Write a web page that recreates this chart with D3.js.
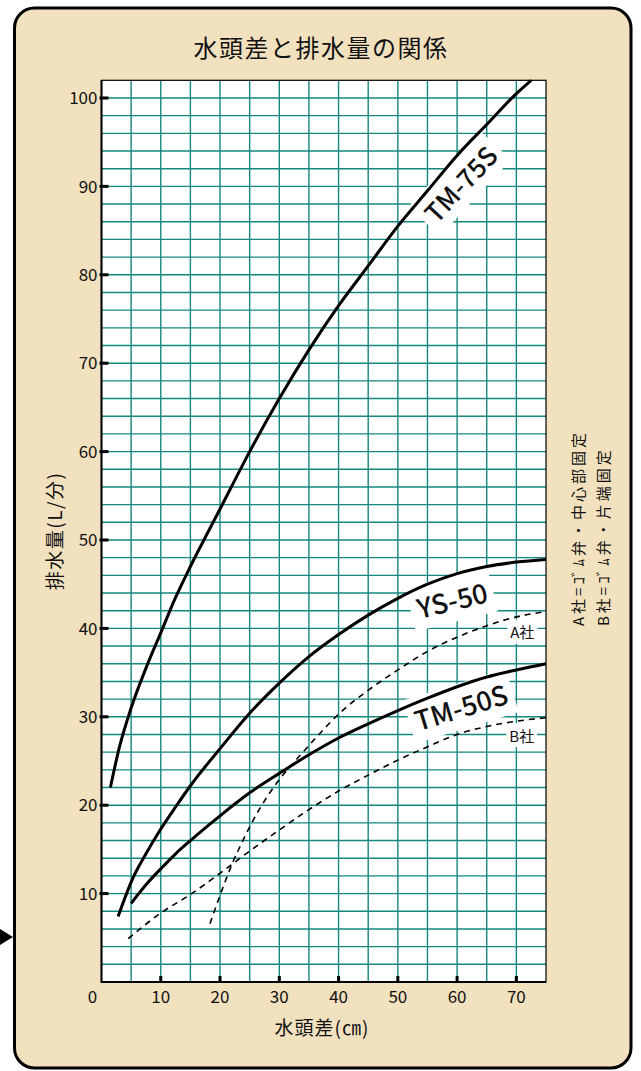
<!DOCTYPE html>
<html>
<head>
<meta charset="utf-8">
<script src="https://cdn.jsdelivr.net/npm/d3@7"></script>
<style>
  html, body { margin: 0; padding: 0; background: #ffffff; }
  svg { display: block; }
  text { font-family: "Noto Sans CJK JP", "Noto Sans", sans-serif; fill: #111; }
</style>
</head>
<body>
<svg id="chart" width="641" height="1071"></svg>
<script>
// 水頭差 (cm) vs 排水量 (L/分)
var xTicks = [10, 20, 30, 40, 50, 60, 70];
var yTicks = [10, 20, 30, 40, 50, 60, 70, 80, 90, 100];

var tm75s = [[1.5, 22], [3, 26.5], [5, 31], [7.5, 35.5], [10, 39.5], [12.5, 43.5], [15, 47],
  [20, 53.5], [25, 60], [30, 66], [35, 71.5], [40, 76.5], [45, 81], [50, 85.5], [55, 89.5],
  [60, 93.5], [65, 97], [70, 100.5], [72.5, 102]];
var ys50 = [[2.8, 7.4], [4, 9.6], [5, 11.3], [7.5, 14.5], [10, 17.3], [12.5, 19.8], [15, 22.2],
  [20, 26.4], [25, 30.4], [30, 33.8], [35, 36.8], [40, 39.3], [45, 41.5], [50, 43.4], [55, 45],
  [60, 46.2], [65, 47], [70, 47.5], [75, 47.8]];
var tm50s = [[5, 8.9], [7.5, 11], [10, 12.8], [12.5, 14.5], [15, 16], [20, 18.8], [25, 21.4],
  [30, 23.6], [35, 25.7], [40, 27.6], [45, 29.2], [50, 30.7], [55, 32.1], [60, 33.4], [65, 34.5],
  [70, 35.3], [75, 36]];
var companyA = [[18.3, 6.6], [20, 9.8], [22, 13.3], [24, 16.2], [26, 18.8], [28, 21], [30, 22.9],
  [32, 24.5], [34, 26], [36, 27.5], [40, 30.3], [45, 33], [50, 35.3], [55, 37.4], [60, 39],
  [65, 40.3], [70, 41.3], [75, 41.9]];
var companyB = [[4.5, 4.9], [10, 7.8], [15, 9.9], [20, 12.3], [25, 14.8], [30, 17.2], [35, 19.5],
  [40, 21.6], [45, 23.4], [50, 25.1], [55, 26.6], [60, 28], [65, 28.9], [70, 29.5], [75, 29.9]];

var curveLabels = [
  { text: "TM-75S", x: 60.7, y: 90.2, angle: -47, size: 26 },
  { text: "YS-50", x: 59.2, y: 43.1, angle: -14, size: 27 },
  { text: "TM-50S", x: 60.7, y: 31.0, angle: -17, size: 27 },
  { text: "A社", x: 71, y: 39.5, angle: 0, size: 15 },
  { text: "B社", x: 70.9, y: 27.8, angle: 0, size: 15 }
];
var notes = ["A社=ｺﾞﾑ弁・中心部固定", "B社=ｺﾞﾑ弁・片端固定"];

var svg = d3.select("#chart");
var GRID = "#14877f";

var x = d3.scaleLinear().domain([0, 75]).range([101.5, 546]);
var y = d3.scaleLinear().domain([0, 102]).range([982, 80.3]);

// panel + pointer arrow
svg.append("rect")
  .attr("x", 14.5).attr("y", 8).attr("width", 616.5).attr("height", 1060)
  .attr("rx", 20).attr("ry", 20)
  .style("fill", "#f2e1be").style("stroke", "#000").style("stroke-width", 3);
svg.append("path")
  .attr("d", "M0,929 L13,937 L0,945 Z")
  .style("fill", "#000");

svg.append("text")
  .attr("x", 321).attr("y", 57)
  .attr("text-anchor", "middle")
  .style("font-size", "24px").style("letter-spacing", "1.5px")
  .text("水頭差と排水量の関係");

// plot area
svg.append("rect")
  .attr("x", x(0)).attr("y", y(102))
  .attr("width", x(75) - x(0)).attr("height", y(0) - y(102))
  .style("fill", "#fff");

var grid = svg.append("g");
grid.selectAll("line.v").data(d3.range(5, 75, 5)).enter().append("line")
  .attr("x1", function(d) { return x(d); }).attr("x2", function(d) { return x(d); })
  .attr("y1", y(0)).attr("y2", y(102))
  .style("stroke", GRID).style("stroke-width", 1.4);
grid.selectAll("line.h").data(d3.range(2, 102, 2)).enter().append("line")
  .attr("y1", function(d) { return y(d); }).attr("y2", function(d) { return y(d); })
  .attr("x1", x(0)).attr("x2", x(75))
  .style("stroke", GRID).style("stroke-width", 1.4);

// white boxes behind the curve labels, then the labels on top later
var labelG = svg.append("g");
var boxG = labelG.append("g");
var textG = labelG.append("g");

var line = d3.line()
  .x(function(d) { return x(d[0]); })
  .y(function(d) { return y(d[1]); })
  .curve(d3.curveMonotoneX);

var curveG = svg.append("g").style("fill", "none").style("stroke", "#000");
[tm75s, ys50, tm50s].forEach(function(s) {
  curveG.append("path").attr("d", line(s)).style("stroke-width", 3);
});
[companyA, companyB].forEach(function(s) {
  curveG.append("path").attr("d", line(s))
    .style("stroke-width", 1.6).style("stroke-dasharray", "6,5");
});

curveLabels.forEach(function(l) {
  var g = textG.append("g")
    .attr("transform", "translate(" + x(l.x) + "," + y(l.y) + ") rotate(" + l.angle + ")");
  var t = g.append("text")
    .attr("text-anchor", "middle").attr("dy", "0.36em")
    .style("font-size", l.size + "px")
    .style("font-weight", l.size > 20 ? 500 : 400)
    .text(l.text);
  var b = t.node().getBBox();
  var pad = l.size > 20 ? 6 : 3;
  boxG.append("rect")
    .attr("transform", "translate(" + x(l.x) + "," + y(l.y) + ") rotate(" + l.angle + ")")
    .attr("x", b.x - pad).attr("y", b.y - pad / 2)
    .attr("width", b.width + pad * 2).attr("height", b.height + pad)
    .style("fill", "#fff");
});
labelG.raise();
curveG.raise();
textG.raise();

// frame
svg.append("rect")
  .attr("x", x(0)).attr("y", y(102))
  .attr("width", x(75) - x(0)).attr("height", y(0) - y(102))
  .style("fill", "none").style("stroke", "#000").style("stroke-width", 1.2);
svg.append("path")
  .attr("d", "M" + x(0) + "," + y(102) + " L" + x(0) + "," + y(0) + " L" + x(75) + "," + y(0))
  .style("fill", "none").style("stroke", "#000").style("stroke-width", 2);

// tick marks
svg.selectAll("line.yt").data(yTicks).enter().append("line")
  .attr("x1", x(0) - 2).attr("x2", x(0) + 7)
  .attr("y1", function(d) { return y(d); }).attr("y2", function(d) { return y(d); })
  .style("stroke", "#000").style("stroke-width", 3);
svg.selectAll("line.xt").data(xTicks).enter().append("line")
  .attr("x1", function(d) { return x(d); }).attr("x2", function(d) { return x(d); })
  .attr("y1", y(0) - 6).attr("y2", y(0))
  .style("stroke", "#000").style("stroke-width", 3);

// tick labels
svg.selectAll("text.yl").data(yTicks).enter().append("text")
  .attr("x", x(0) - 4).attr("y", function(d) { return y(d); })
  .attr("dy", "0.36em").attr("text-anchor", "end")
  .style("font-size", "17px")
  .text(function(d) { return d; });
svg.selectAll("text.xl").data([0].concat(xTicks)).enter().append("text")
  .attr("x", function(d) { return d === 0 ? x(0) - 9 : x(d); })
  .attr("y", 1003).attr("text-anchor", "middle")
  .style("font-size", "17px")
  .text(function(d) { return d; });

// axis titles
svg.append("text")
  .attr("x", 322).attr("y", 1035).attr("text-anchor", "middle")
  .style("font-size", "19px").style("letter-spacing", "1px")
  .text("水頭差(㎝)");
svg.append("text")
  .attr("transform", "translate(62,531) rotate(-90)")
  .attr("text-anchor", "middle")
  .style("font-size", "19px").style("letter-spacing", "1.5px")
  .text("排水量(L/分)");

// side notes
notes.forEach(function(n, i) {
  svg.append("text")
    .attr("transform", "translate(" + (584 + i * 25) + ",626) rotate(-90)")
    .attr("text-anchor", "start")
    .style("font-size", "15px").style("letter-spacing", "3px")
    .text(n);
});
</script>
</body>
</html>
